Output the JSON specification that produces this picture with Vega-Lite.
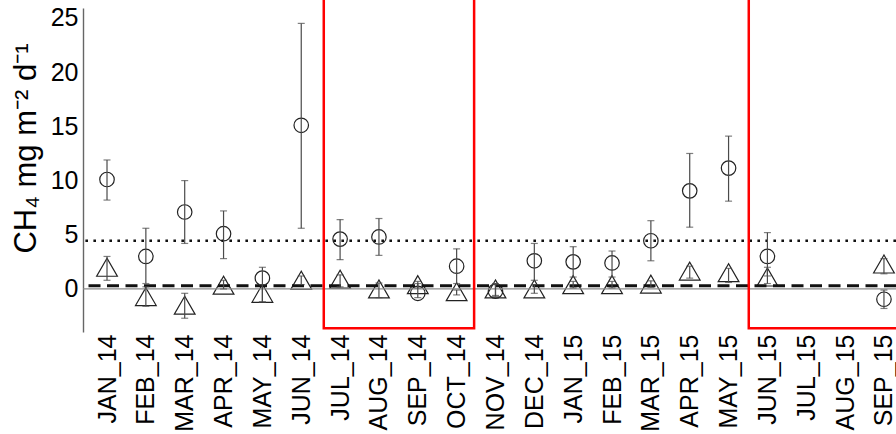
{
  "$schema": "https://vega.github.io/schema/vega-lite/v6.json",
  "width": 813,
  "height": 324,
  "autosize": {"type": "none"},
  "padding": {"left": 83, "top": 8, "right": 0, "bottom": 102},
  "background": "white",
  "config": {
    "view": {"stroke": null},
    "font": "Liberation Sans",
    "axisX": {
      "labelAngle": -90, "labelFontSize": 25, "labelFont": "Liberation Sans", "labelColor": "#000000",
      "labelPadding": 2, "labelOverlap": false, "labelFlush": false, "labelBound": false,
      "ticks": false, "domain": false, "grid": false
    },
    "axisY": {
      "titleFontSize": 31, "titleFont": "Liberation Sans", "titleFontWeight": "normal", "titleColor": "#000000",
      "titleX": -48, "titleY": 140, "titleAngle": 270, "titleAlign": "center", "titleBaseline": "alphabetic",
      "labelFontSize": 25, "labelFont": "Liberation Sans", "labelColor": "#000000", "labelPadding": 5,
      "labelOverlap": false, "labelFlush": false, "ticks": false, "grid": false,
      "domainColor": "#666666", "domainWidth": 1.4
    }
  },
  "datasets": {
    "obs": [
      {"month": "JAN_14", "idx": 1, "series": "S1", "mean": 10.1, "lo": 8.2, "hi": 11.9},
      {"month": "FEB_14", "idx": 2, "series": "S1", "mean": 3.0, "lo": 0.5, "hi": 5.6},
      {"month": "MAR_14", "idx": 3, "series": "S1", "mean": 7.1, "lo": 4.2, "hi": 10.0},
      {"month": "APR_14", "idx": 4, "series": "S1", "mean": 5.1, "lo": 2.8, "hi": 7.2},
      {"month": "MAY_14", "idx": 5, "series": "S1", "mean": 1.0, "lo": -1.2, "hi": 2.0},
      {"month": "JUN_14", "idx": 6, "series": "S1", "mean": 15.1, "lo": 5.6, "hi": 24.5},
      {"month": "JUL_14", "idx": 7, "series": "S1", "mean": 4.6, "lo": 2.7, "hi": 6.4},
      {"month": "AUG_14", "idx": 8, "series": "S1", "mean": 4.8, "lo": 3.1, "hi": 6.5},
      {"month": "SEP_14", "idx": 9, "series": "S1", "mean": -0.4, "lo": -0.8, "hi": 0.5},
      {"month": "OCT_14", "idx": 10, "series": "S1", "mean": 2.1, "lo": 0.5, "hi": 3.7},
      {"month": "NOV_14", "idx": 11, "series": "S1", "mean": -0.2, "lo": -0.7, "hi": 0.4},
      {"month": "DEC_14", "idx": 12, "series": "S1", "mean": 2.6, "lo": 0.8, "hi": 4.2},
      {"month": "JAN_15", "idx": 13, "series": "S1", "mean": 2.5, "lo": 1.1, "hi": 3.9},
      {"month": "FEB_15", "idx": 14, "series": "S1", "mean": 2.4, "lo": 1.1, "hi": 3.5},
      {"month": "MAR_15", "idx": 15, "series": "S1", "mean": 4.45, "lo": 2.6, "hi": 6.3},
      {"month": "APR_15", "idx": 16, "series": "S1", "mean": 9.05, "lo": 5.7, "hi": 12.5},
      {"month": "MAY_15", "idx": 17, "series": "S1", "mean": 11.15, "lo": 8.1, "hi": 14.1},
      {"month": "JUN_15", "idx": 18, "series": "S1", "mean": 3.0, "lo": 1.2, "hi": 5.2},
      {"month": "SEP_15", "idx": 21, "series": "S1", "mean": -0.95, "lo": -1.8, "hi": -0.1},
      {"month": "JAN_14", "idx": 1, "series": "S2", "mean": 2.0, "lo": 0.8, "hi": 3.0},
      {"month": "FEB_14", "idx": 2, "series": "S2", "mean": -0.7, "lo": -1.6, "hi": 0.2},
      {"month": "MAR_14", "idx": 3, "series": "S2", "mean": -1.5, "lo": -2.7, "hi": -0.4},
      {"month": "APR_14", "idx": 4, "series": "S2", "mean": 0.35, "lo": 0.0, "hi": 0.8},
      {"month": "MAY_14", "idx": 5, "series": "S2", "mean": -0.4, "lo": -1.2, "hi": 0.4},
      {"month": "JUN_14", "idx": 6, "series": "S2", "mean": 0.8, "lo": 0.4, "hi": 1.2},
      {"month": "JUL_14", "idx": 7, "series": "S2", "mean": 0.9, "lo": 0.2, "hi": 1.3},
      {"month": "AUG_14", "idx": 8, "series": "S2", "mean": 0.0, "lo": -0.8, "hi": 0.55},
      {"month": "SEP_14", "idx": 9, "series": "S2", "mean": 0.4, "lo": 0.1, "hi": 0.7},
      {"month": "OCT_14", "idx": 10, "series": "S2", "mean": -0.25, "lo": -0.55, "hi": -0.1},
      {"month": "NOV_14", "idx": 11, "series": "S2", "mean": 0.0, "lo": -0.6, "hi": 0.5},
      {"month": "DEC_14", "idx": 12, "series": "S2", "mean": 0.0, "lo": -0.4, "hi": 0.4},
      {"month": "JAN_15", "idx": 13, "series": "S2", "mean": 0.4, "lo": 0.1, "hi": 0.7},
      {"month": "FEB_15", "idx": 14, "series": "S2", "mean": 0.4, "lo": 0.1, "hi": 0.7},
      {"month": "MAR_15", "idx": 15, "series": "S2", "mean": 0.45, "lo": 0.15, "hi": 0.75},
      {"month": "APR_15", "idx": 16, "series": "S2", "mean": 1.65, "lo": 1.0, "hi": 2.1},
      {"month": "MAY_15", "idx": 17, "series": "S2", "mean": 1.5, "lo": 0.6, "hi": 1.9},
      {"month": "JUN_15", "idx": 18, "series": "S2", "mean": 1.1, "lo": 0.5, "hi": 2.0},
      {"month": "SEP_15", "idx": 21, "series": "S2", "mean": 2.3, "lo": 1.4, "hi": 2.8}
    ],
    "boxes": [
      {"x0": 6.58, "x1": 10.45, "lo": -3.63, "hi": 26.8},
      {"x0": 17.52, "x1": 21.8, "lo": -3.63, "hi": 26.8}
    ],
    "refs": [
      {"kind": "zero", "v": 0},
      {"kind": "dotted", "v": 4.45},
      {"kind": "dashed", "v": 0.3}
    ]
  },
  "encoding": {
    "x": {
      "field": "idx", "type": "quantitative",
      "scale": {"domain": [0.382, 21.31], "nice": false, "zero": false},
      "axis": {
        "values": [1, 2, 3, 4, 5, 6, 7, 8, 9, 10, 11, 12, 13, 14, 15, 16, 17, 18, 19, 20, 21],
        "labelExpr": "['JAN_14','FEB_14','MAR_14','APR_14','MAY_14','JUN_14','JUL_14','AUG_14','SEP_14','OCT_14','NOV_14','DEC_14','JAN_15','FEB_15','MAR_15','APR_15','MAY_15','JUN_15','JUL_15','AUG_15','SEP_15'][datum.value - 1]",
        "title": null
      }
    },
    "y": {
      "field": "mean", "type": "quantitative",
      "scale": {"domain": [-3.97, 25.92], "nice": false, "zero": false},
      "axis": {"values": [0, 5, 10, 15, 20, 25], "title": "CH₄ mg m⁻² d⁻¹"}
    }
  },
  "layer": [
    {
      "data": {"name": "obs"},
      "mark": {"type": "point", "filled": false, "stroke": "#222222", "strokeWidth": 1.2, "opacity": 1},
      "encoding": {
        "shape": {"field": "series", "type": "nominal", "scale": {"domain": ["S1", "S2"], "range": ["circle", "triangle-up"]}, "legend": null},
        "size": {"field": "series", "type": "nominal", "scale": {"domain": ["S1", "S2"], "range": [210, 430]}, "legend": null}
      }
    },
    {
      "data": {"name": "refs"},
      "transform": [{"filter": "datum.kind == 'zero'"}],
      "mark": {"type": "rule", "color": "#8a8a8a", "strokeWidth": 1.3},
      "encoding": {
        "x": null,
        "y": {"field": "v", "type": "quantitative", "title": "CH₄ mg m⁻² d⁻¹"}
      }
    },
    {
      "data": {"name": "refs"},
      "transform": [{"filter": "datum.kind == 'dotted'"}],
      "mark": {"type": "rule", "color": "#111111", "strokeWidth": 2.6, "strokeDash": [2.6, 5.4]},
      "encoding": {
        "x": null,
        "y": {"field": "v", "type": "quantitative", "title": "CH₄ mg m⁻² d⁻¹"}
      }
    },
    {
      "data": {"name": "refs"},
      "transform": [{"filter": "datum.kind == 'dashed'"}],
      "mark": {"type": "rule", "color": "#111111", "strokeWidth": 3, "strokeDash": [12, 6.5]},
      "encoding": {
        "x": null,
        "y": {"field": "v", "type": "quantitative", "title": "CH₄ mg m⁻² d⁻¹"}
      }
    },
    {
      "data": {"name": "boxes"},
      "mark": {"type": "rect", "fill": null, "stroke": "#ff0000", "strokeWidth": 2.5},
      "encoding": {
        "x": {"field": "x0", "type": "quantitative", "title": null},
        "x2": {"field": "x1"},
        "y": {"field": "lo", "type": "quantitative", "title": "CH₄ mg m⁻² d⁻¹"},
        "y2": {"field": "hi"}
      }
    },
    {
      "data": {"name": "obs"},
      "mark": {"type": "rule", "color": "#4a4a4a", "strokeWidth": 1.2},
      "encoding": {
        "y": {"field": "lo", "type": "quantitative", "title": "CH₄ mg m⁻² d⁻¹"},
        "y2": {"field": "hi"}
      }
    },
    {
      "data": {"name": "obs"},
      "mark": {"type": "tick", "orient": "horizontal", "color": "#4a4a4a", "size": 7, "thickness": 1.2},
      "encoding": {
        "y": {"field": "lo", "type": "quantitative", "title": "CH₄ mg m⁻² d⁻¹"}
      }
    },
    {
      "data": {"name": "obs"},
      "mark": {"type": "tick", "orient": "horizontal", "color": "#4a4a4a", "size": 7, "thickness": 1.2},
      "encoding": {
        "y": {"field": "hi", "type": "quantitative", "title": "CH₄ mg m⁻² d⁻¹"}
      }
    }
  ]
}
